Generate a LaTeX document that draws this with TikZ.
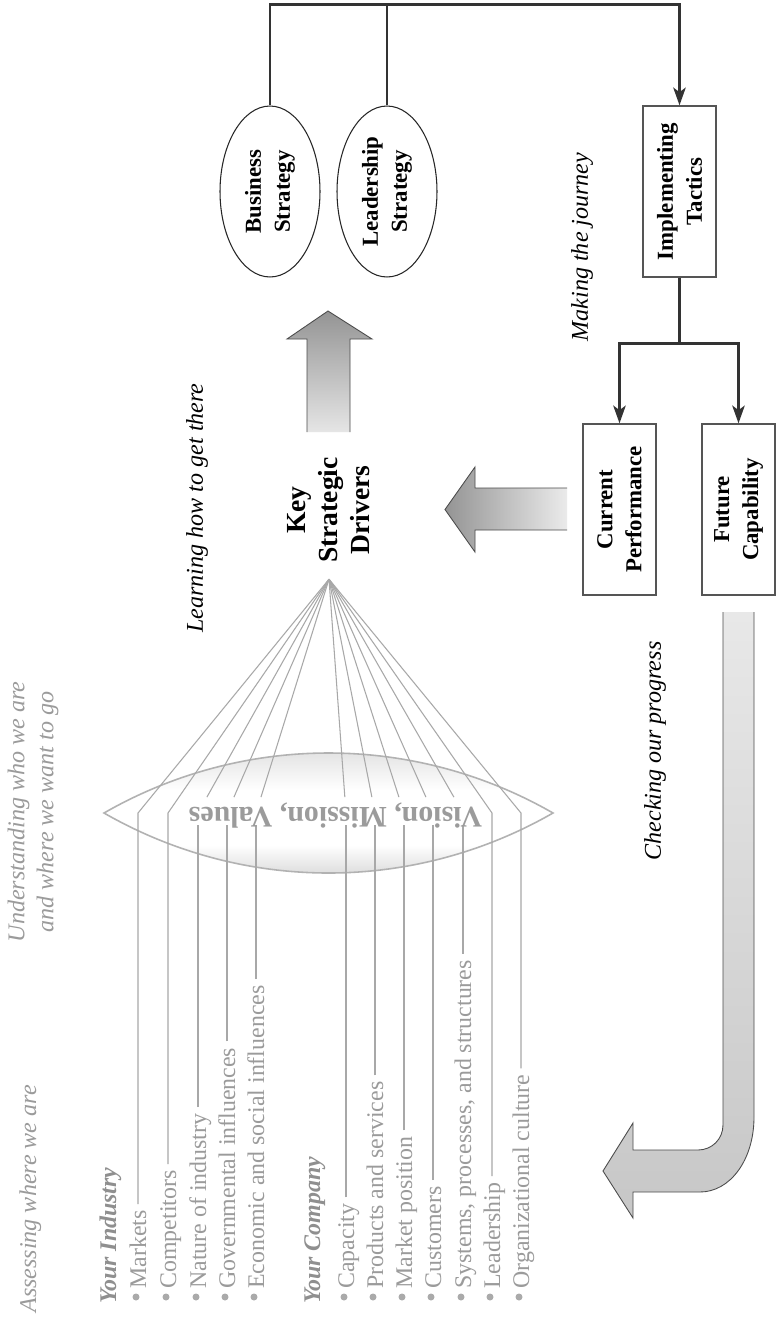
\documentclass[tikz,border=0pt]{standalone}
\usepackage{fontspec}
\setmainfont{Liberation Serif}
\usetikzlibrary{shapes.geometric,arrows.meta,calc}
\definecolor{tg}{HTML}{9B9B9B}
\definecolor{lg}{HTML}{A8A8A8}
\definecolor{dk}{HTML}{333333}
\definecolor{bx}{HTML}{555555}
\pgfdeclareverticalshading{lensshade}{100bp}{color(0bp)=(black!22); color(25bp)=(black!22); color(40bp)=(white); color(57bp)=(white); color(75bp)=(black!16); color(100bp)=(black!16)}
\begin{document}
\begin{tikzpicture}[x=0.02cm,y=-0.02cm,
  item/.style={rotate=90,anchor=base west,inner sep=0pt,text=tg,font=\fontsize{13.6}{16}\selectfont},
  headtext/.style={rotate=90,anchor=base west,inner sep=0pt,text=tg!92!black,font=\fontsize{13.6}{16}\selectfont\bfseries\itshape},
  lbl/.style={rotate=90,inner sep=0pt,font=\fontsize{13.7}{16.5}\selectfont\itshape},
  fanline/.style={draw=lg,line width=0.6pt},
  bulletdot/.style={fill=tg!85,draw=none},
  dkline/.style={draw=dk,line width=1.7pt},
  dkarrow/.style={dkline,-{Stealth[length=10pt,width=7pt,inset=2.5pt]}},
  boxnode/.style={rotate=90,draw=bx,line width=0.8pt,minimum width=3.42cm,minimum height=1.46cm,align=center,font=\fontsize{13}{16.5}\selectfont\bfseries,inner sep=0pt},
  ellnode/.style={rotate=90,ellipse,draw=black!85,line width=0.6pt,minimum width=3.42cm,minimum height=2cm,align=center,font=\fontsize{13}{16.5}\selectfont\bfseries,inner sep=0pt},
  blk/.style={draw=black!70,line width=0.5pt}
]
\fill[white] (0,0) rectangle (775,1323);
\useasboundingbox (0,0) rectangle (775,1323);

% lens
\shade[shading=lensshade]
  (104,813) .. controls (243.4,733) and (413.6,733) .. (553,813)
  .. controls (413.6,893) and (243.4,893) .. (104,813) -- cycle;
\draw[draw=black!30, line width=0.9pt]
  (104,813) .. controls (243.4,733) and (413.6,733) .. (553,813)
  .. controls (413.6,893) and (243.4,893) .. (104,813) -- cycle;

% key strategic drivers
\node[rotate=90,align=center,inner sep=0pt,font=\fontsize{15.7}{18.2}\selectfont\bfseries] (ksd) at (329,510) {Key\\Strategic\\Drivers};
\coordinate (apex) at ($(ksd.west)+(0,16)$);
\coordinate (mid) at (0,813);
\coordinate (tbot) at (0,825);

% list items
\foreach \n/\x/\t in {1/138/Markets,2/168/Competitors,3/198/Nature of industry,4/227/Governmental influences,5/256/Economic and social influences,6/346/Capacity,7/375/Products and services,8/404/Market position,9/433/Customers,10/463/{Systems, processes, and structures},11/492/Leadership,12/521/Organizational culture}{
  \node[item] (i\n) at (\x+8,1289) {\t};
  \fill[bulletdot] (\x-2,1297) circle (0.07cm);
  \path (i\n.base east) ++(-8,-6) coordinate (s\n);
  \coordinate (k\n) at (s\n |- mid);
}
\foreach \n in {1,2,11,12}{
  \draw[fanline] (s\n) -- (k\n) -- (apex);
}
\foreach \n in {3,...,10}{
  \draw[fanline] (s\n) -- (s\n |- tbot);
  \draw[fanline] (apex) -- ($(apex)!0.932!(k\n)$);
}

\node[rotate=180,inner sep=0pt,text=tg,font=\fontsize{17}{20}\selectfont\bfseries] (vmv) at (335.5,816) {Vision, Mission, Values};

% headings and labels
\node[lbl,text=tg,anchor=base west] (assess) at (36,1313) {Assessing where we are};
\node[headtext] (hind) at (116,1304) {Your Industry};
\node[headtext] (hcom) at (320,1304) {Your Company};
\node[lbl,text=tg,align=center] (under) at (33,812) {Understanding who we are\\and where we want to go};
\node[lbl] (learn) at (197,508) {Learning how to get there};
\node[lbl] (make) at (582,247) {Making the journey};
\node[lbl] (check) at (655,751) {Checking our progress};

% strategy ellipses and boxes
\node[ellnode] (bs) at (270,191.5) {Business\\Strategy};
\node[ellnode] (ls) at (387,191.5) {Leadership\\Strategy};
\node[boxnode] (it) at (679.5,191.5) {Implementing\\Tactics};
\node[boxnode] (cp) at (619.5,509.5) {Current\\Performance};
\node[boxnode] (fc) at (738.5,509.5) {Future\\Capability};

% connectors
\coordinate (topbar) at (0,4);
\draw[dkarrow] (bs.east) -- (bs.east |- topbar) -- (it.east |- topbar) -- (it.east);
\draw[dkline] (ls.east) -- (ls.east |- topbar);
\coordinate (spl) at (0,343);
\draw[dkline] (it.west) -- (it.west |- spl);
\draw[dkarrow] (it.west |- spl) -| (cp.east);
\draw[dkarrow] (it.west |- spl) -| (fc.east);

% up block arrow
\shade[top color=black!42, bottom color=black!10] (307,432) -- (307,339) -- (287,339) -- (328,311) -- (372,339) -- (350,339) -- (350,432) -- cycle;
\draw[blk] (307,432) -- (307,339) -- (287,339) -- (328,311) -- (372,339) -- (350,339) -- (350,432);

% left block arrow
\shade[left color=black!42, right color=black!8] (567,488) -- (475,488) -- (475,467) -- (445,509.5) -- (475,552) -- (475,530) -- (567,530) -- cycle;
\draw[blk] (567,488) -- (475,488) -- (475,467) -- (445,509.5) -- (475,552) -- (475,530) -- (567,530);

% bent block arrow
\shade[top color=black!9, bottom color=black!22] (723,612) -- (723,1125) .. controls (723,1139) and (712,1150) .. (698,1150) -- (633,1150) -- (633,1123) -- (603,1171) -- (633,1218) -- (633,1192) -- (700,1192) .. controls (730,1192) and (754,1160) .. (754,1117) -- (754,612) -- cycle;
\draw[blk] (723,612) -- (723,1125) .. controls (723,1139) and (712,1150) .. (698,1150) -- (633,1150) -- (633,1123) -- (603,1171) -- (633,1218) -- (633,1192) -- (700,1192) .. controls (730,1192) and (754,1160) .. (754,1117) -- (754,612);
\end{tikzpicture}
\end{document}
